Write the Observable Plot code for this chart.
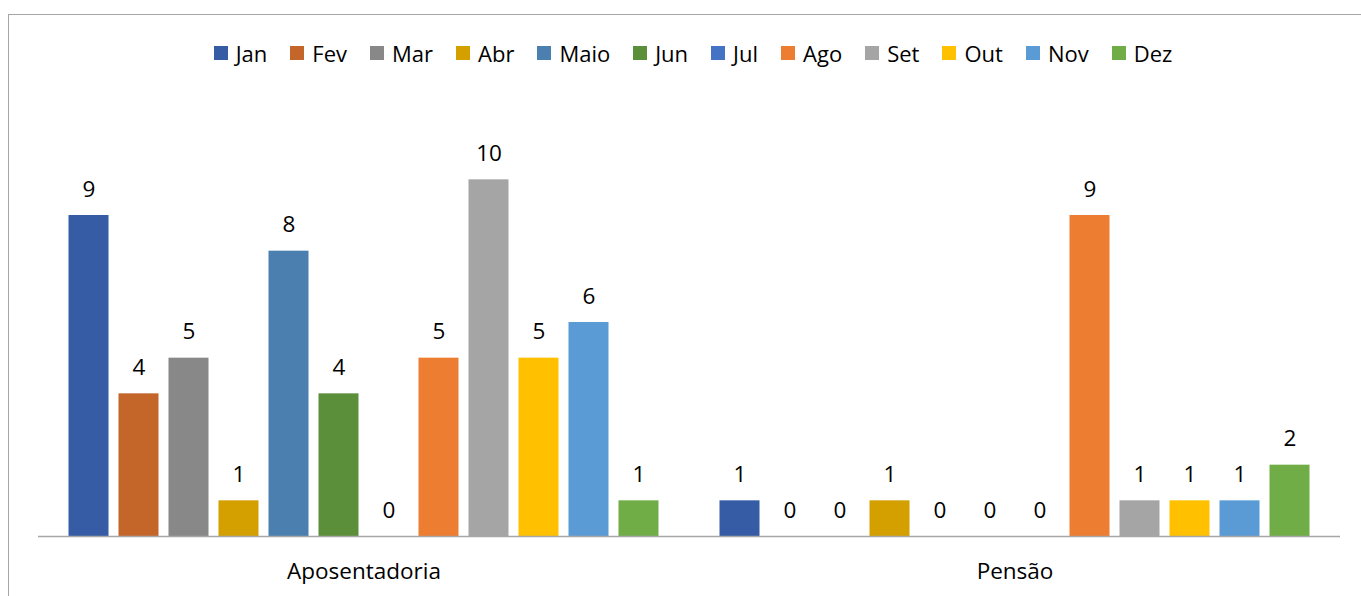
<!DOCTYPE html>
<html>
<head>
<meta charset="utf-8">
<script src="https://cdn.jsdelivr.net/npm/d3@7"></script>
<script src="https://cdn.jsdelivr.net/npm/@observablehq/plot@0.6"></script>
<style>
  html, body { margin: 0; padding: 0; background: #fff; overflow: hidden; }
  #wrap { position: relative; width: 1361px; height: 596px; overflow: hidden; }
  #frame { position: absolute; left: 8px; top: 14px; width: 1400px; height: 700px; border: 1.5px solid #a6a6a6; box-sizing: border-box; pointer-events: none; }
  #legend { position: absolute; left: 0; top: 36px; width: 1361px; padding-left: 25px; box-sizing: border-box; display: flex; justify-content: center; }
  #legend .lg-swatches { font-family: "Open Sans", sans-serif; font-size: 22px; color: #000; margin: 0; justify-content: center; }
  #legend .lg-swatch { margin-right: 23px; }
  #legend .lg-swatch:last-child { margin-right: 0; }
  #legend .lg-swatch > svg { margin-right: 8px; }
  #chart svg { display: block; }
</style>
</head>
<body>
<div id="wrap">
  <div id="chart"></div>
  <div id="legend"></div>
  <div id="frame"></div>
</div>
<script>
const categories = ["Aposentadoria", "Pensão"];
const months = ["Jan", "Fev", "Mar", "Abr", "Maio", "Jun", "Jul", "Ago", "Set", "Out", "Nov", "Dez"];
const aposentadoria = [9, 4, 5, 1, 8, 4, 0, 5, 10, 5, 6, 1];
const pensao = [1, 0, 0, 1, 0, 0, 0, 9, 1, 1, 1, 2];
const palette = ["#355ca4", "#c4652a", "#888888", "#d4a000", "#4a7fb0", "#5b8f3a",
                 "#4472c4", "#ed7d31", "#a5a5a5", "#ffc000", "#5b9bd5", "#70ad47"];

const series = [aposentadoria, pensao];
const rows = [];
categories.forEach((c, i) => months.forEach((m, j) => rows.push({category: c, month: m, value: series[i][j]})));

const chart = Plot.plot({
  width: 1361,
  height: 596,
  marginLeft: 38,
  marginRight: 21,
  marginTop: 108,
  marginBottom: 60,
  style: {fontFamily: "'Open Sans', sans-serif", fontSize: "22.5px", color: "#000", background: "transparent", overflow: "visible"},
  fx: {domain: categories, padding: 0, round: false, axis: null},
  x: {domain: months, paddingInner: 0.2, paddingOuter: 0.61, round: false, axis: null},
  y: {domain: [0, 12], axis: null},
  color: {domain: months, range: palette},
  marks: [
    Plot.barY(rows, {fx: "category", x: "month", y: "value", fill: "month"}),
    Plot.ruleY([0], {stroke: "#a6a6a6", strokeWidth: 1.5}),
    Plot.text(rows, {fx: "category", x: "month", y: "value", text: d => String(d.value), lineAnchor: "bottom", dy: -19, fill: "#000", fontSize: 22.5}),
    Plot.axisFx({anchor: "bottom", tickSize: 0, tickPadding: 27, fontSize: 22.5, fill: "#000", label: null})
  ]
});
document.getElementById("chart").appendChild(chart);

const legend = chart.legend("color", {legend: "swatches", swatchSize: 14, className: "lg"});
document.getElementById("legend").appendChild(legend);
</script>
</body>
</html>
